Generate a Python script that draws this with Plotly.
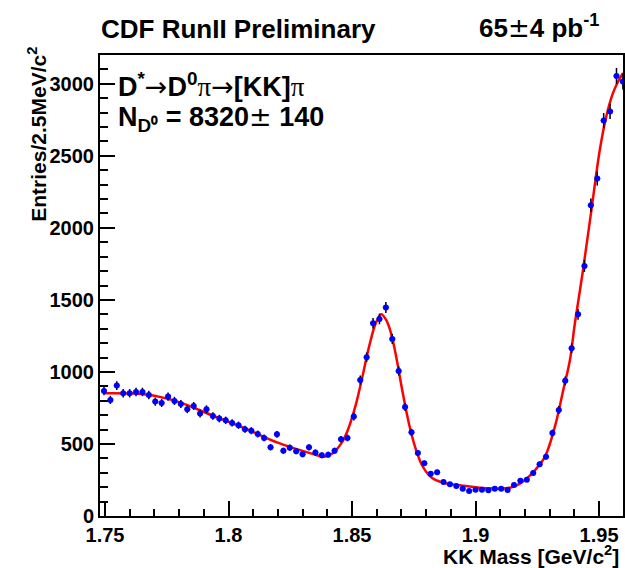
import numpy as np
import plotly.graph_objects as go

# ---------------- data ----------------
bin_first_center = 1.7496
bin_width = 0.002593
counts = [868, 806, 905, 852, 852, 861, 861, 840, 794, 785, 829, 799, 778, 741, 764, 711, 741, 694, 676, 664,
          646, 630, 602, 592, 569, 542, 477, 567, 453, 474, 449, 428, 477, 440, 421, 426, 453, 533, 542, 690,
          944, 1102, 1338, 1368, 1447, 1229, 1007, 757, 581, 437, 366, 294, 303, 236, 220, 208,
          190, 174, 183, 183, 178, 190, 190, 181, 215, 245, 252, 299, 359, 412, 576, 736, 938,
          1164, 1400, 1736, 2157, 2342, 2745, 2808, 3055, 3016]

fit_x = [1.7500, 1.7673, 1.7794, 1.7930, 1.8065, 1.8199, 1.8333, 1.8387, 1.8419, 1.8461, 1.8488,
         1.8515, 1.8542, 1.8569, 1.8596, 1.8618, 1.8638, 1.8656, 1.8676, 1.8703, 1.8730, 1.8757,
         1.8783, 1.8810, 1.8837, 1.8878, 1.8925, 1.8985, 1.9052, 1.9120, 1.9160, 1.9200, 1.9241,
         1.9281, 1.9321, 1.9355, 1.9382, 1.9402, 1.9435, 1.9469, 1.9503, 1.9529, 1.9556, 1.9577, 1.9597]
fit_y = [852, 842, 794, 701, 609, 509, 435, 412, 432, 516, 620,
         771, 967, 1176, 1338, 1400, 1361, 1280, 1130, 875, 644, 470,
         354, 285, 250, 227, 215, 203, 192, 192, 208, 250, 319,
         412, 620, 875, 1083, 1338, 1708, 2125, 2542, 2773, 2935, 3016, 3075]

x_major = [1.75, 1.8, 1.85, 1.9, 1.95]
x_major_text = ["1.75", "1.8", "1.85", "1.9", "1.95"]
y_major = [0, 500, 1000, 1500, 2000, 2500, 3000]

# ---------------- derived ----------------
centers = [bin_first_center + i * bin_width for i in range(len(counts))]
errs = np.sqrt(np.array(counts, dtype=float))

FONT = "Liberation Sans, Arial, Helvetica, sans-serif"
ARROW = "<span style='font-family:DejaVu Sans;font-weight:normal'>→</span>"
PI = "<span style='font-family:Liberation Serif;font-weight:normal'>π</span>"
PM = "<span style='font-family:DejaVu Sans;font-weight:normal'>±</span>"

fig = go.Figure()
fig.add_trace(go.Scatter(
    x=fit_x, y=fit_y, mode="lines",
    line=dict(color="#ff0000", width=2.5, shape="spline", smoothing=1.0),
    hoverinfo="skip", showlegend=False))
fig.add_trace(go.Scatter(
    x=centers, y=counts, mode="markers",
    marker=dict(color="#0000ff", size=6, symbol="circle"),
    error_y=dict(type="data", array=errs, color="black", thickness=1.5, width=0),
    error_x=dict(type="constant", value=bin_width / 2, color="#8a8aa8", thickness=1, width=0),
    showlegend=False))

L, R, T, B = 100, 0, 55, 52
W, H = 625, 568
pw = W - L - R
x0 = 1.75 - 5 / 2480
x1 = 1.75 + (625 - 105) / 2480

fig.update_layout(
    width=W, height=H,
    margin=dict(l=L, r=R, t=T, b=B, pad=0),
    paper_bgcolor="white", plot_bgcolor="white",
    font=dict(family=FONT, size=20, color="black", weight="bold"),
    xaxis=dict(range=[x0, x1], showgrid=False, zeroline=False,
               showline=True, linecolor="black", linewidth=2, mirror=True,
               ticks="inside", ticklen=15, tickwidth=1.5, tickcolor="black",
               tickmode="array", tickvals=x_major, ticktext=x_major_text,
               tickfont=dict(family=FONT, size=20, weight="bold"),
               minor=dict(ticks="inside", ticklen=7, tickwidth=1.5, tickcolor="black",
                          tick0=1.75, dtick=0.01, showgrid=False)),
    yaxis=dict(range=[0, 3200], showgrid=False, zeroline=False,
               showline=True, linecolor="black", linewidth=2, mirror=True,
               ticks="inside", ticklen=15, tickwidth=1.5, tickcolor="black",
               tickmode="array", tickvals=y_major,
               tickfont=dict(family=FONT, size=20, weight="bold"),
               minor=dict(ticks="inside", ticklen=8, tickwidth=1.5, tickcolor="black",
                          tick0=0, dtick=100, showgrid=False)),
)

def px2paper(px, py):
    return (px - L) / pw, (H - B - py) / (H - T - B)

def ann(text, px, py, size, xanchor="left", yanchor="middle", angle=0):
    ax, ay = px2paper(px, py)
    fig.add_annotation(text=text, x=ax, y=ay, xref="paper", yref="paper",
                       xanchor=xanchor, yanchor=yanchor, showarrow=False, textangle=angle,
                       font=dict(family=FONT, size=size, color="black", weight="bold"))

ann("CDF RunII Preliminary", 99, 29, 26)
ann("65" + PM + "4 pb<sup>-1</sup>", 603, 27, 26, xanchor="right")
ann("D<sup>*</sup>" + ARROW + "D<sup>0</sup>" + PI + ARROW + "[KK]" + PI, 116, 85, 27)
ann("N<sub>D⁰</sub> = 8320" + PM + " 140", 116, 119, 27)
ann("KK Mass [GeV/c<sup>2</sup>]", 623, 555, 21, xanchor="right")
ann("Entries/2.5MeV/c<sup>2</sup>", 37, 45, 21, xanchor="center", yanchor="top", angle=-90)

fig.write_html("out.html")
